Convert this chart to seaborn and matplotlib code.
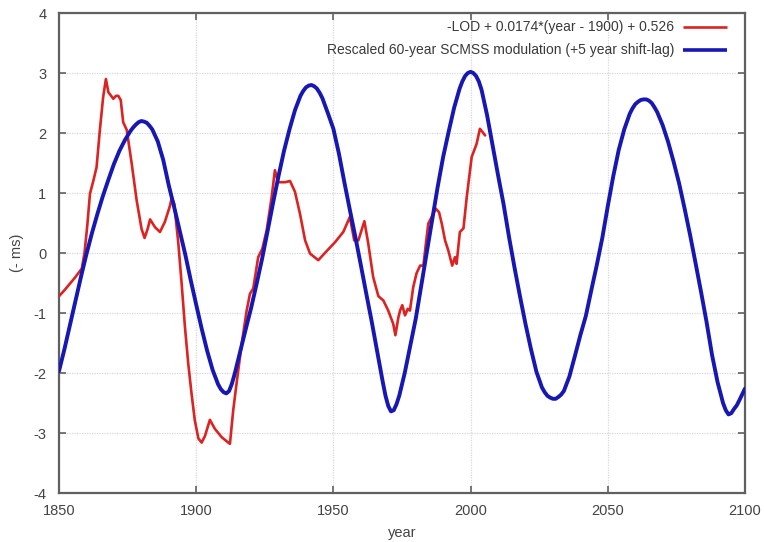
import matplotlib
matplotlib.use("Agg")
import matplotlib.pyplot as plt
import seaborn as sns
import pandas as pd

# -LOD series (ms), detrended and offset
lod_years = [1850.0, 1852.0, 1854.0, 1856.0, 1858.3, 1859.3, 1860.3, 1861.3, 1862.5, 1863.7,
             1864.9, 1866.1, 1867.1, 1868.0, 1869.0, 1869.8, 1870.8, 1871.6, 1872.5, 1873.4,
             1874.7, 1876.5, 1878.3, 1880.1, 1881.2, 1882.3, 1883.2, 1885.0, 1886.8, 1888.6,
             1890.4, 1891.1, 1892.0, 1893.5, 1894.7, 1895.9, 1897.1, 1898.3, 1899.5, 1900.8,
             1902.0, 1903.2, 1905.0, 1906.8, 1909.3, 1911.7, 1912.3, 1913.5, 1914.7, 1916.6,
             1918.4, 1919.6, 1920.8, 1922.6, 1924.1, 1925.7, 1927.5, 1928.7, 1929.9, 1932.4,
             1934.2, 1936.0, 1937.8, 1939.7, 1941.5, 1944.5, 1946.9, 1950.6, 1953.6, 1956.0,
             1957.6, 1959.1, 1961.3, 1962.7, 1964.5, 1966.4, 1968.2, 1970.0, 1971.8, 1972.6,
             1973.7, 1974.3, 1975.1, 1976.1, 1977.1, 1977.9, 1979.1, 1980.3, 1981.6, 1982.8,
             1984.0, 1984.6, 1985.8, 1987.3, 1988.5, 1989.5, 1990.7, 1991.9, 1993.3, 1994.3,
             1994.9, 1996.1, 1997.4, 1998.6, 2000.4, 2002.2, 2003.4, 2004.3, 2005.3]
lod_values = [-0.72, -0.62, -0.51, -0.40, -0.26, 0.00, 0.45, 0.99, 1.20, 1.43,
              2.05, 2.60, 2.90, 2.68, 2.62, 2.57, 2.62, 2.62, 2.55, 2.18,
              2.05, 1.49, 0.88, 0.40, 0.25, 0.40, 0.56, 0.43, 0.35, 0.52,
              0.78, 0.92, 0.82, 0.16, -0.51, -1.23, -1.84, -2.34, -2.79, -3.09,
              -3.16, -3.05, -2.78, -2.93, -3.07, -3.16, -3.18, -2.62, -2.18, -1.51,
              -0.96, -0.68, -0.59, -0.07, 0.07, 0.38, 0.93, 1.38, 1.18, 1.18,
              1.20, 1.02, 0.66, 0.21, -0.01, -0.12, 0.00, 0.18, 0.35, 0.60,
              0.21, 0.21, 0.53, 0.16, -0.40, -0.72, -0.79, -0.96, -1.18, -1.37,
              -1.07, -0.96, -0.87, -1.04, -0.93, -0.96, -0.57, -0.34, -0.21, -0.21,
              0.27, 0.49, 0.60, 0.74, 0.68, 0.49, 0.21, 0.04, -0.21, -0.07,
              -0.18, 0.35, 0.41, 0.93, 1.60, 1.82, 2.07, 2.02, 1.96]

# Rescaled 60-year SCMSS modulation (+5 year shift-lag)
scmss_years = [1850, 1852, 1854, 1856, 1858, 1860, 1862, 1864, 1866, 1868,
               1870, 1872, 1874, 1876, 1877, 1878, 1879, 1880, 1881, 1882, 1883, 1884, 1886, 1888,
               1890, 1892, 1894, 1896, 1898, 1900, 1902, 1904, 1906, 1908, 1909,
               1910, 1911, 1912, 1913, 1914, 1916, 1918, 1920, 1922, 1924, 1926, 1928,
               1930, 1932, 1934, 1936, 1938, 1939, 1940, 1941, 1942, 1943, 1944, 1945, 1946, 1948,
               1950, 1952, 1954, 1956, 1958, 1960, 1962, 1964, 1966, 1968, 1969,
               1970, 1971, 1972, 1973, 1974, 1976, 1978, 1980, 1982, 1984, 1986, 1988,
               1990, 1992, 1994, 1996, 1997, 1998, 1999, 2000, 2001, 2002, 2003, 2004, 2006, 2008,
               2010, 2012, 2014, 2016, 2018, 2020, 2022, 2024, 2026, 2027, 2028, 2029,
               2030, 2031, 2032, 2033, 2034, 2036, 2038, 2040, 2042, 2044, 2046, 2048,
               2050, 2052, 2054, 2056, 2058, 2059, 2060, 2061, 2062, 2063, 2064, 2065, 2066, 2067, 2068,
               2070, 2072, 2074, 2076, 2078, 2080, 2082, 2084, 2086, 2088,
               2090, 2092, 2093, 2094, 2095, 2096, 2097, 2098, 2100]
scmss_values = [-1.97, -1.60, -1.20, -0.80, -0.40, -0.02, 0.33, 0.65, 0.95, 1.22,
                1.48, 1.70, 1.88, 2.03, 2.09, 2.14, 2.18, 2.20, 2.19, 2.17, 2.12, 2.06, 1.86, 1.55,
                1.13, 0.76, 0.37, -0.02, -0.45, -0.86, -1.26, -1.63, -1.95, -2.19, -2.27,
                -2.32, -2.34, -2.30, -2.18, -2.02, -1.65, -1.28, -0.92, -0.52, -0.10, 0.36, 0.83,
                1.28, 1.70, 2.06, 2.38, 2.62, 2.70, 2.76, 2.79, 2.80, 2.78, 2.74, 2.67, 2.58, 2.33,
                2.07, 1.66, 1.18, 0.72, 0.27, -0.20, -0.68, -1.15, -1.65, -2.15, -2.38,
                -2.55, -2.64, -2.62, -2.52, -2.38, -2.00, -1.55, -1.10, -0.55, 0.00, 0.55, 1.10,
                1.60, 2.02, 2.42, 2.74, 2.86, 2.95, 3.00, 3.02, 3.00, 2.95, 2.86, 2.72, 2.30, 1.80,
                1.30, 0.82, 0.27, -0.24, -0.72, -1.18, -1.60, -1.98, -2.24, -2.32, -2.38, -2.41,
                -2.43, -2.43, -2.40, -2.36, -2.30, -2.06, -1.72, -1.37, -1.05, -0.62, -0.20, 0.25,
                0.78, 1.28, 1.72, 2.06, 2.32, 2.41, 2.48, 2.52, 2.55, 2.56, 2.56, 2.54, 2.50, 2.43, 2.35,
                2.13, 1.85, 1.52, 1.16, 0.74, 0.30, -0.17, -0.65, -1.15, -1.70,
                -2.15, -2.50, -2.62, -2.69, -2.67, -2.60, -2.54, -2.45, -2.26]

x_ticks = [1850, 1900, 1950, 2000, 2050, 2100]
y_ticks = [-4, -3, -2, -1, 0, 1, 2, 3, 4]

lod_label = "-LOD + 0.0174*(year - 1900) + 0.526"
scmss_label = "Rescaled 60-year SCMSS modulation (+5 year shift-lag)"

red = "#dd2222"
blue = "#1717b3"

sns.set_theme(style="white")
plt.rcParams["font.family"] = ["Liberation Sans", "DejaVu Sans"]

lod_df = pd.DataFrame({"year": lod_years, "ms": lod_values})
scmss_df = pd.DataFrame({"year": scmss_years, "ms": scmss_values})

fig = plt.figure(figsize=(7.64, 5.42), dpi=100)
ax = fig.add_axes([0.0772, 0.0904, 0.8979, 0.8856])

sns.lineplot(data=lod_df, x="year", y="ms", color=red, linewidth=1.9, ax=ax, zorder=3)
sns.lineplot(data=scmss_df, x="year", y="ms", color=blue, linewidth=2.8, ax=ax, zorder=4)
for line in ax.get_lines():
    line.set_solid_joinstyle("round")

ax.set_xlim(1850, 2100)
ax.set_ylim(-4, 4)
ax.set_xticks(x_ticks)
ax.set_yticks(y_ticks)
ax.set_xticklabels([str(t) for t in x_ticks])
ax.set_yticklabels([str(t) for t in y_ticks])

ax.grid(True, color="#d8d8d8", linewidth=0.9, linestyle=(0, (1, 1)))
ax.set_axisbelow(True)

for side in ["left", "right", "top", "bottom"]:
    ax.spines[side].set_color("#606060")
    ax.spines[side].set_linewidth(1.6)
    ax.spines[side].set_visible(True)

ax.tick_params(axis="both", which="major", direction="in", length=5, width=1.2,
               color="#606060", labelcolor="#444444", labelsize=10.5,
               top=True, right=True, bottom=True, left=True)
ax.tick_params(axis="y", pad=9)
ax.tick_params(axis="x", pad=8)

ax.set_xlabel("year", fontsize=10.5, color="#444444", labelpad=6)
ax.set_ylabel("(- ms)", fontsize=10.5, color="#444444", labelpad=7)

# key in the upper right: text right-aligned, line sample after it
rows = [(lod_label, red, 1.9, 0.971), (scmss_label, blue, 2.6, 0.923)]
for text, col, lw, yy in rows:
    ax.text(0.897, yy, text, transform=ax.transAxes, ha="right", va="center",
            fontsize=10, color="#3a3a3a", zorder=6)
    ax.plot([0.909, 0.974], [yy, yy], transform=ax.transAxes, color=col,
            linewidth=lw, solid_capstyle="butt", zorder=6)

fig.savefig("out.png", dpi=100)
